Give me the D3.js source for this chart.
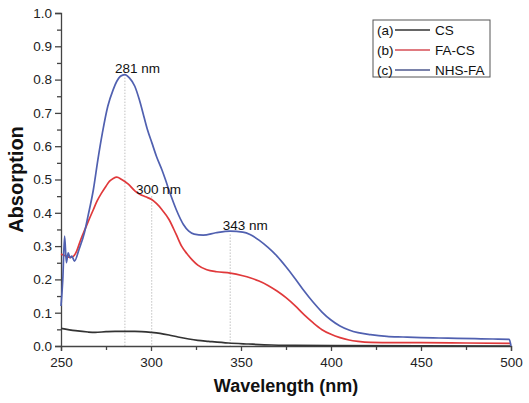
<!DOCTYPE html>
<html><head><meta charset="utf-8">
<script src="https://cdn.jsdelivr.net/npm/d3@7"></script>
<style>html,body{margin:0;padding:0;background:#fff;}svg{display:block;font-family:"Liberation Sans",Arial,sans-serif;}</style>
</head><body>
<svg id="chart" width="529" height="403"></svg>
<script>
// ---- data ----
const seriesNames = ["CS", "FA-CS", "NHS-FA"];
const seriesTags = ["(a)", "(b)", "(c)"];
const csX = [250,258,265,269,275,280,291,300,305,310,315,321,326,332,343,354,367,380,400,500];
const csY = [0.053,0.046,0.042,0.041,0.043,0.044,0.044,0.041,0.038,0.033,0.027,0.021,0.017,0.014,0.009,0.006,0.003,0.002,0.001,0.0];
const faX = [250,252,255,257,258.7,261,263.3,266,268,270,272.6,275,277,279,281,283.7,287.4,291,294,297,300.4,303,306,310,314,317,320,323,326,331,336.5,344,351,355,360,365,370,375,380,385,390,395,400,405,410,415,422,435,450,475,500];
const faY = [0.276,0.272,0.266,0.27,0.285,0.32,0.35,0.385,0.41,0.435,0.46,0.48,0.495,0.503,0.507,0.50,0.486,0.466,0.455,0.448,0.44,0.428,0.41,0.38,0.335,0.30,0.277,0.258,0.243,0.229,0.223,0.219,0.211,0.205,0.195,0.182,0.165,0.145,0.121,0.094,0.07,0.049,0.035,0.025,0.018,0.014,0.011,0.01,0.01,0.009,0.008];
const nhsX = [250,251,252,253,254,255,256,257.5,260,263,265,268,270.5,273,276,279,281,283,285.5,288,291,293.5,296,298,300.5,303,306,308,310.5,314,318,321,324,329,336,344,351,355,360,365,370,375,380,385,390,395,400,405,410,415,422,431,440,450,460,470,480,490,499,500];
const nhsY = [0.12,0.20,0.33,0.25,0.28,0.265,0.27,0.255,0.29,0.34,0.39,0.47,0.56,0.64,0.72,0.77,0.795,0.81,0.815,0.805,0.78,0.74,0.69,0.65,0.61,0.57,0.53,0.50,0.46,0.41,0.365,0.345,0.336,0.333,0.34,0.345,0.342,0.335,0.318,0.296,0.27,0.238,0.203,0.166,0.132,0.102,0.078,0.06,0.048,0.04,0.034,0.029,0.027,0.025,0.024,0.023,0.022,0.021,0.02,0.0];
const xTicks = [250,300,350,400,450,500];
const xMinor = [275,325,375,425,475];
const yTicks = [0.0,0.1,0.2,0.3,0.4,0.5,0.6,0.7,0.8,0.9,1.0];
const yMinor = [0.05,0.15,0.25,0.35,0.45,0.55,0.65,0.75,0.85,0.95];
const peakLabels = ["281 nm","300 nm","343 nm"];
const peakLineX = [285.5,300.4,344];
const peakLineTop = [0.815,0.45,0.335];
const peakLabelX = [280,291.7,339.8];
const peakLabelY = [0.82,0.456,0.348];

// ---- layout ----
const svg = d3.select("#chart");
const x = d3.scaleLinear().domain([250,500]).range([61,511]);
const y = d3.scaleLinear().domain([0,1]).range([346,13]);
const colors = ["#333333","#e0393b","#5060b0"];
const legendColors = ["#666666","#e07a80","#7a82aa"];

// dotted guide lines
svg.append("g").selectAll("line").data(peakLineX).join("line")
  .attr("x1",d=>x(d)).attr("x2",d=>x(d))
  .attr("y1",(d,i)=>y(peakLineTop[i])).attr("y2",y(0))
  .attr("stroke","#c0c0c0").attr("stroke-width",1).attr("stroke-dasharray","1.5,1.5");

// axes
const fmt = d3.format(".1f");
const xAxis = svg.append("g").attr("transform",`translate(0,${y(0)})`)
  .call(d3.axisBottom(x).tickValues(xTicks).tickSize(5).tickPadding(6).tickFormat(d3.format("d")));
const xAxisMinor = svg.append("g").attr("transform",`translate(0,${y(0)})`)
  .call(d3.axisBottom(x).tickValues(xMinor).tickSize(4).tickFormat(""));
const yAxis = svg.append("g").attr("transform",`translate(${x(250)},0)`)
  .call(d3.axisLeft(y).tickValues(yTicks).tickSize(6).tickPadding(3).tickFormat(fmt));
const yAxisMinor = svg.append("g").attr("transform",`translate(${x(250)},0)`)
  .call(d3.axisLeft(y).tickValues(yMinor).tickSize(4).tickFormat(""));
[xAxis,xAxisMinor,yAxis,yAxisMinor].forEach(g=>{
  g.selectAll("path").attr("stroke","#444").attr("stroke-width",1.3);
  g.selectAll("line").attr("stroke","#444").attr("stroke-width",1.3);
  g.selectAll("text").attr("fill","#222").style("font-size","13.5px").style("font-family","'Liberation Sans',Arial,sans-serif");
});
xAxisMinor.select("path").remove(); yAxisMinor.select("path").remove();

// lines
const line = d3.line().x(d=>x(d[0])).y(d=>y(d[1])).curve(d3.curveMonotoneX);
const series = [d3.zip(csX,csY), d3.zip(faX,faY), d3.zip(nhsX,nhsY)];
svg.append("g").selectAll("path").data(series).join("path")
  .attr("d",line).attr("fill","none")
  .attr("stroke",(d,i)=>colors[i]).attr("stroke-width",1.7).attr("stroke-linejoin","round");

// peak labels
svg.append("g").selectAll("text").data(peakLabels).join("text")
  .attr("x",(d,i)=>x(peakLabelX[i])).attr("y",(d,i)=>y(peakLabelY[i]))
  .attr("fill","#111").style("font-size","13.5px").text(d=>d);

// axis titles
svg.append("text").attr("x",(x(250)+x(500))/2).attr("y",392).attr("text-anchor","middle")
  .style("font-size","18px").style("font-weight","bold").attr("fill","#111").text("Wavelength (nm)");
svg.append("text").attr("transform",`translate(23,${(y(0)+y(1))/2}) rotate(-90)`).attr("text-anchor","middle")
  .style("font-size","20px").style("font-weight","bold").attr("fill","#111").text("Absorption");

// legend
const lg = svg.append("g");
lg.append("rect").attr("x",373).attr("y",20).attr("width",117).attr("height",57)
  .attr("fill","#fff").attr("stroke","#555").attr("stroke-width",1);
seriesNames.forEach((n,i)=>{
  const cy = 30 + i*20;
  lg.append("text").attr("x",377).attr("y",cy+4.5).style("font-size","13.5px").attr("fill","#111").text(seriesTags[i]);
  lg.append("line").attr("x1",395).attr("x2",430).attr("y1",cy).attr("y2",cy)
    .attr("stroke",legendColors[i]).attr("stroke-width",2);
  lg.append("text").attr("x",435).attr("y",cy+4.5).style("font-size","13.5px").attr("fill","#111").text(n);
});
</script>
</body></html>
